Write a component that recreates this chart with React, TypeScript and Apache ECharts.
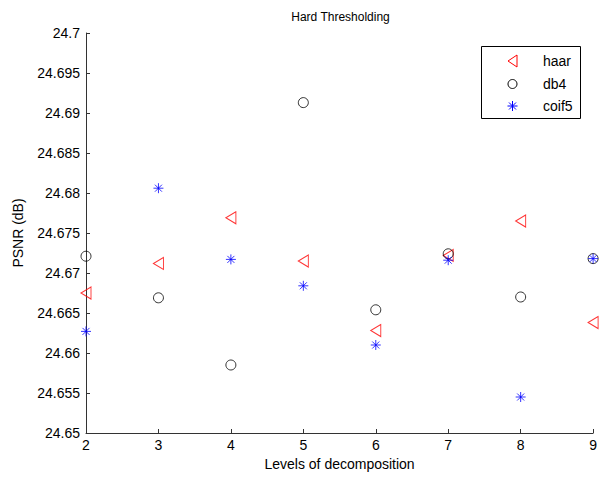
import React, { useEffect, useRef } from "react";
import * as echarts from "echarts";

const levels = [2, 3, 4, 5, 6, 7, 8, 9];
const haar = [24.6675, 24.6712, 24.6769, 24.6715, 24.6628, 24.6722, 24.6765, 24.6638];
const db4 = [24.6721, 24.6669, 24.6585, 24.6913, 24.6654, 24.6724, 24.667, 24.6718];
const coif5 = [24.6627, 24.6806, 24.6717, 24.6684, 24.661, 24.6716, 24.6545, 24.6718];
const seriesNames = ["haar", "db4", "coif5"];
const titleText = "Hard Thresholding";
const xName = "Levels of decomposition";
const yName = "PSNR (dB)";

const FONT = "'Liberation Sans', Arial, sans-serif";

const TRI = "path://M10,0L0,6L10,12Z";
const STAR = "path://M5,0L5,10M0,5L10,5M1.5,1.5L8.5,8.5M1.5,8.5L8.5,1.5";

const RED = "#ff0000";
const BLACK = "#000000";
const BLUE = "#0000ff";

function legendGraphic() {
  const bx = 481;
  const by = 46;
  const ix = 512.5;
  const tx = 543;
  const rows = [61, 84, 106];
  const Z = 20;
  const seg = (x1: number, y1: number, x2: number, y2: number) => ({
    type: "line",
    z: Z,
    shape: { x1: ix + x1, y1: rows[2] + y1, x2: ix + x2, y2: rows[2] + y2 },
    style: { stroke: BLUE, lineWidth: 1 },
  });
  const text = (y: number, s: string) => ({
    type: "text",
    z: Z,
    x: tx,
    y,
    style: { text: s, fontFamily: FONT, fontSize: 14, fill: "#000", align: "left", verticalAlign: "middle" },
  });
  return [
    {
      type: "rect",
      z: 10,
      shape: { x: bx + 0.5, y: by + 0.5, width: 99, height: 72 },
      style: { fill: "#fff", stroke: "#000", lineWidth: 1 },
    },
    {
      type: "polygon",
      z: Z,
      shape: { points: [[ix + 4.5, rows[0] - 6], [ix - 4.5, rows[0]], [ix + 4.5, rows[0] + 6]] },
      style: { fill: "rgba(0,0,0,0)", stroke: RED, lineWidth: 1 },
    },
    text(rows[0], seriesNames[0]),
    {
      type: "circle",
      z: Z,
      shape: { cx: ix, cy: rows[1], r: 4.5 },
      style: { fill: "rgba(0,0,0,0)", stroke: BLACK, lineWidth: 1 },
    },
    text(rows[1], seriesNames[1]),
    seg(0, -5, 0, 5),
    seg(-5, 0, 5, 0),
    seg(-3.5, -3.5, 3.5, 3.5),
    seg(-3.5, 3.5, 3.5, -3.5),
    text(rows[2], seriesNames[2]),
  ];
}

export default function App() {
  const ref = useRef<HTMLDivElement>(null);
  useEffect(() => {
    if (!ref.current) return;
    const chart = echarts.init(ref.current, null, { renderer: "svg" });
    const pairs = (vals: number[]) => levels.map((x, i) => [x, vals[i]]);
    chart.setOption({
      animation: false,
      backgroundColor: "#ffffff",
      textStyle: { fontFamily: FONT },
      grid: { left: 86, right: 5, top: 33, bottom: 44 },
      graphic: [
        {
          type: "text",
          x: 340.5,
          y: 17,
          style: {
            text: titleText,
            fontFamily: FONT,
            fontSize: 12,
            fill: "#000",
            align: "center",
            verticalAlign: "middle",
          },
        },
        ...legendGraphic(),
      ],
      xAxis: {
        type: "value",
        min: 2,
        max: 9,
        interval: 1,
        name: xName,
        nameLocation: "middle",
        nameGap: 24,
        nameTextStyle: { fontFamily: FONT, fontSize: 14, color: "#000" },
        axisLine: { show: true, lineStyle: { color: "#333", width: 1 } },
        axisTick: { show: true, inside: true, length: 4, lineStyle: { color: "#333" } },
        axisLabel: { margin: 5, fontFamily: FONT, fontSize: 14, color: "#000" },
        splitLine: { show: false },
      },
      yAxis: {
        type: "value",
        min: 24.65,
        max: 24.7,
        interval: 0.005,
        name: yName,
        nameLocation: "middle",
        nameGap: 61,
        nameTextStyle: { fontFamily: FONT, fontSize: 14, color: "#000" },
        axisLine: { show: true, lineStyle: { color: "#333", width: 1 } },
        axisTick: { show: true, inside: true, length: 4, lineStyle: { color: "#333" } },
        axisLabel: {
          margin: 6,
          fontFamily: FONT,
          fontSize: 14,
          color: "#000",
          formatter: (v: number) => String(parseFloat(v.toFixed(3))),
        },
        splitLine: { show: false },
      },
      series: [
        {
          name: seriesNames[0],
          type: "scatter",
          symbol: TRI,
          symbolSize: [10, 12],
          clip: false,
          itemStyle: { color: "rgba(255,0,0,0)", borderColor: RED, borderWidth: 1 },
          data: pairs(haar),
        },
        {
          name: seriesNames[1],
          type: "scatter",
          symbol: "circle",
          symbolSize: 10,
          clip: false,
          itemStyle: { color: "rgba(0,0,0,0)", borderColor: BLACK, borderWidth: 1 },
          data: pairs(db4),
        },
        {
          name: seriesNames[2],
          type: "scatter",
          symbol: STAR,
          symbolSize: 10,
          clip: false,
          itemStyle: { color: "rgba(0,0,255,0)", borderColor: BLUE, borderWidth: 1 },
          data: pairs(coif5),
        },
      ],
    });
    return () => chart.dispose();
  }, []);
  return (
    <div
      ref={ref}
      style={{ width: 600, height: 477, position: "fixed", left: 0, top: 0 }}
    />
  );
}
